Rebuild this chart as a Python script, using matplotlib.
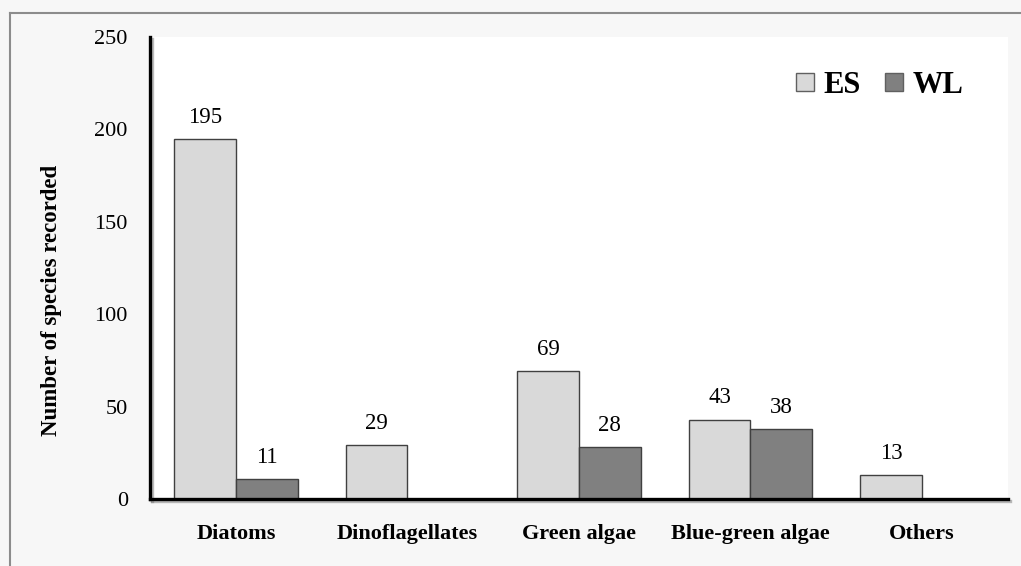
import numpy as np
import matplotlib
matplotlib.use("Agg")
import matplotlib.pyplot as plt
import matplotlib.patheffects as pe
from matplotlib.lines import Line2D

plt.rcParams['font.family'] = ['Liberation Serif', 'DejaVu Serif']

groups = ['Diatoms', 'Dinoflagellates', 'Green algae', 'Blue-green algae', 'Others']
es = [195, 29, 69, 43, 13]
wl = [11, 0, 28, 38, 0]

fig = plt.figure(figsize=(10.21, 5.66), dpi=100, facecolor='#f7f7f7')
ax = fig.add_axes([0.147, 0.1184, 0.84, 0.8162])
ax.set_facecolor('white')

# frame around the picture (left and top edges visible)
fig.add_artist(Line2D([0.0098, 0.0098], [0.0, 0.977], transform=fig.transFigure, color='#8c8c8c', lw=1.5))
fig.add_artist(Line2D([0.0098, 1.0], [0.977, 0.977], transform=fig.transFigure, color='#8c8c8c', lw=1.5))

x = np.arange(len(groups))
w = 0.36
b1 = ax.bar(x - w / 2, es, w, color='#d9d9d9', edgecolor='#404040', linewidth=1, label='ES')
b2 = ax.bar(x + w / 2, wl, w, color='#808080', edgecolor='#404040', linewidth=1, label='WL')

for rect, v in zip(list(b1) + list(b2), es + wl):
    if v > 0:
        ax.annotate(str(v), (rect.get_x() + rect.get_width() / 2, v), xytext=(0, 8),
                    textcoords='offset points', ha='center', va='bottom', fontsize=16.5)

ax.set_xlim(-0.5, 4.5)
ax.set_ylim(0, 250)
ax.set_yticks(range(0, 251, 50))
ax.set_xticks(x)
ax.set_xticklabels(groups, fontsize=16, fontweight='bold')
ax.tick_params(axis='y', length=0, pad=16, labelsize=16)
ax.tick_params(axis='x', length=0, pad=18)

ax.set_ylabel('Number of species recorded', fontsize=16.5, fontweight='bold')
ax.yaxis.set_label_coords(-0.103, 0.43)

for s in ['top', 'right']:
    ax.spines[s].set_visible(False)
for s in ['left', 'bottom']:
    ax.spines[s].set_linewidth(2.4)
    ax.spines[s].set_color('black')
    ax.spines[s].set_path_effects([pe.SimpleLineShadow(offset=(1.5, -1.5), shadow_color='#777777', alpha=0.5),
                                   pe.Normal()])

leg = ax.legend(loc='center right', bbox_to_anchor=(0.948, 0.896), ncol=2, frameon=False,
                prop={'weight': 'bold', 'size': 22}, handlelength=0.6, handleheight=0.55,
                handletextpad=0.3, columnspacing=0.8, borderpad=0, borderaxespad=0)
for h in leg.legend_handles:
    h.set_edgecolor('#606060')

fig.savefig('out.png', dpi=100, facecolor=fig.get_facecolor())
